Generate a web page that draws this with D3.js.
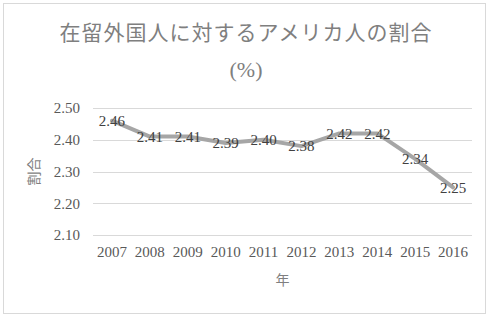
<!DOCTYPE html>
<html><head><meta charset="utf-8">
<script src="https://cdn.jsdelivr.net/npm/d3@7"></script>
<style>body{margin:0;background:#fff}svg{display:block}</style>
</head><body><div id="c"></div>
<script>
const years = ["2007","2008","2009","2010","2011","2012","2013","2014","2015","2016"];
const values = [2.46,2.41,2.41,2.39,2.40,2.38,2.42,2.42,2.34,2.25];
const yTicks = [2.10,2.20,2.30,2.40,2.50];
const title1 = "在留外国人に対するアメリカ人の割合";
const title2 = "(%)";
const xTitle = "年";
const yTitle = "割合";

const FF = "'Liberation Serif', 'DejaVu Serif', 'Noto Sans CJK JP', serif";
const W=492,H=319;
const svg=d3.select("#c").append("svg").attr("width",W).attr("height",H);
svg.append("rect").attr("x",3.5).attr("y",3.5).attr("width",482).attr("height",310)
  .attr("fill","#fff").attr("stroke","#d9d9d9");
const m={l:93,r:472,t:108,b:235};
const x=d3.scaleBand().domain(years).range([m.l,m.r]);
const y=d3.scaleLinear().domain([2.10,2.50]).range([m.b,m.t]);

svg.append("g").selectAll("line").data(yTicks).join("line")
  .attr("x1",m.l).attr("x2",m.r).attr("y1",d=>Math.round(y(d))+0.5).attr("y2",d=>Math.round(y(d))+0.5)
  .attr("stroke","#d9d9d9").attr("stroke-width",1);

const ya=svg.append("g").attr("transform",`translate(${m.l},0)`)
  .call(d3.axisLeft(y).tickValues(yTicks).tickFormat(d3.format(".2f")).tickSize(0).tickPadding(13));
ya.attr("font-family",null).attr("font-size",null);
ya.select(".domain").remove();
ya.selectAll("text").style("font-family",FF).attr("fill","#595959").style("font-size","15px");

const xa=svg.append("g").attr("transform",`translate(0,${m.b})`)
  .call(d3.axisBottom(x).tickSize(0).tickPadding(11));
xa.attr("font-family",null).attr("font-size",null);
xa.select(".domain").remove();
xa.selectAll("text").style("font-family",FF).attr("fill","#595959").style("font-size","15px");

const line=d3.line().x(d=>x(d.y)+x.bandwidth()/2).y(d=>y(d.v));
const pts=years.map((yr,i)=>({y:yr,v:values[i]}));
svg.append("path").datum(pts).attr("d",line).attr("fill","none")
  .attr("stroke","#a6a6a6").attr("stroke-width",4).attr("stroke-linejoin","round").attr("stroke-linecap","round");

svg.append("g").selectAll("text").data(pts).join("text")
  .attr("x",d=>x(d.y)+x.bandwidth()/2).attr("y",d=>y(d.v)).attr("dy","0.35em")
  .attr("text-anchor","middle").style("font-family",FF).style("font-size","15px").attr("fill","#404040")
  .text(d=>d.v.toFixed(2));

svg.append("text").attr("x",246).attr("y",33).attr("dy","0.35em").attr("text-anchor","middle")
  .style("font-family",FF).style("font-size","21px").attr("fill","#7f7f7f").attr("letter-spacing","1px").text(title1);
svg.append("text").attr("x",246).attr("y",69).attr("dy","0.35em").attr("text-anchor","middle")
  .style("font-family",FF).style("font-size","22px").attr("fill","#7f7f7f").text(title2);
svg.append("text").attr("x",(m.l+m.r)/2).attr("y",280).attr("dy","0.35em").attr("text-anchor","middle")
  .style("font-family",FF).style("font-size","14px").attr("fill","#7f7f7f").text(xTitle);
svg.append("text").attr("transform",`translate(34,${(m.t+m.b)/2}) rotate(-90)`).attr("dy","0.35em")
  .attr("text-anchor","middle").style("font-family",FF).style("font-size","14px").attr("fill","#7f7f7f").text(yTitle);
</script></body></html>
